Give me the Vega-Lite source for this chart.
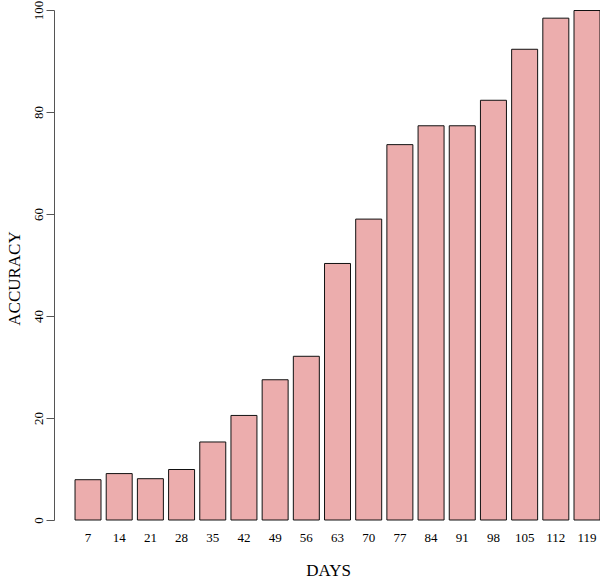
{
  "$schema": "https://vega.github.io/schema/vega-lite/v6.json",
  "autosize": {"type": "none"},
  "padding": {"left": 54, "top": 10, "right": 0, "bottom": 58},
  "width": 546,
  "height": 510,
  "background": "white",
  "config": {"view": {"stroke": null}, "font": "Liberation Serif"},
  "data": {
    "values": [
      {"days": "7", "accuracy": 7.9},
      {"days": "14", "accuracy": 9.1},
      {"days": "21", "accuracy": 8.1},
      {"days": "28", "accuracy": 9.9},
      {"days": "35", "accuracy": 15.3},
      {"days": "42", "accuracy": 20.5},
      {"days": "49", "accuracy": 27.5},
      {"days": "56", "accuracy": 32.1},
      {"days": "63", "accuracy": 50.3},
      {"days": "70", "accuracy": 59.0},
      {"days": "77", "accuracy": 73.6},
      {"days": "84", "accuracy": 77.3},
      {"days": "91", "accuracy": 77.3},
      {"days": "98", "accuracy": 82.3},
      {"days": "105", "accuracy": 92.3},
      {"days": "112", "accuracy": 98.4},
      {"days": "119", "accuracy": 99.9}
    ]
  },
  "mark": {"type": "bar", "fill": "#ecadad", "stroke": "#111111", "strokeWidth": 1},
  "encoding": {
    "x": {
      "field": "days",
      "type": "ordinal",
      "sort": null,
      "scale": {"paddingInner": 0.1667, "paddingOuter": 0.337, "align": 1},
      "axis": {
        "title": "DAYS",
        "domain": false,
        "ticks": false,
        "labelAngle": 0,
        "labelFontSize": 13,
        "labelColor": "#000000",
        "labelPadding": 11,
        "labelFont": "Liberation Serif",
        "titleFont": "Liberation Serif",
        "titleFontWeight": "normal",
        "titleFontSize": 17,
        "titleColor": "#000000",
        "titleX": 274,
        "titleY": 55,
        "titleAnchor": "middle",
        "titleAlign": "center",
        "titleBaseline": "alphabetic"
      }
    },
    "y": {
      "field": "accuracy",
      "type": "quantitative",
      "scale": {"domain": [0, 100], "nice": false},
      "axis": {
        "title": "ACCURACY",
        "values": [0, 20, 40, 60, 80, 100],
        "grid": false,
        "domainColor": "#555555",
        "tickColor": "#555555",
        "tickSize": 8,
        "labelAngle": -90,
        "labelAlign": "center",
        "labelBaseline": "alphabetic",
        "labelPadding": 4,
        "labelFontSize": 13,
        "labelColor": "#000000",
        "labelFont": "Liberation Serif",
        "titleFont": "Liberation Serif",
        "titleFontWeight": "normal",
        "titleFontSize": 17,
        "titleColor": "#000000",
        "titleAngle": -90,
        "titleX": -35,
        "titleY": 268,
        "titleAlign": "center",
        "titleBaseline": "alphabetic"
      }
    }
  }
}
